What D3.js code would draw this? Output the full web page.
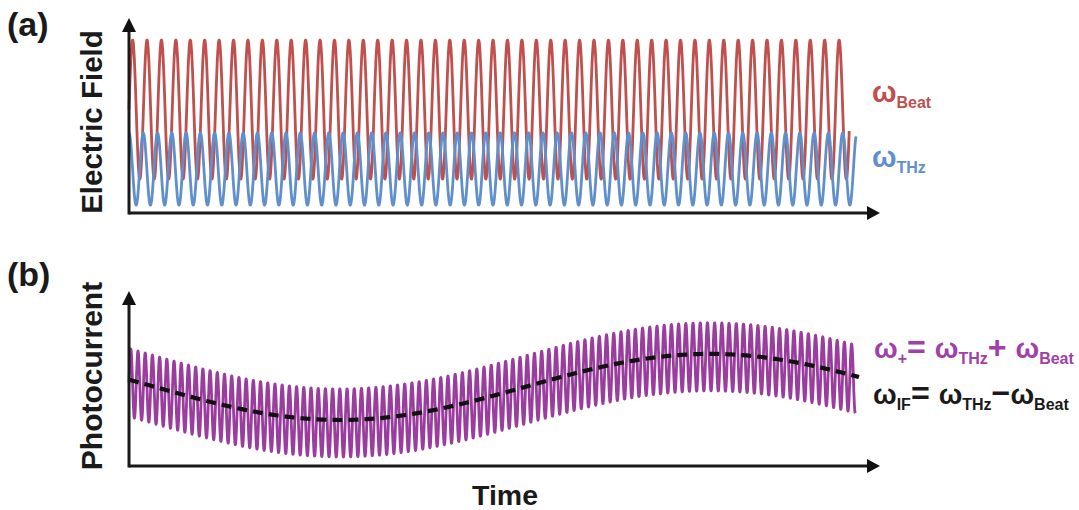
<!DOCTYPE html>
<html>
<head>
<meta charset="utf-8">
<script src="https://cdn.jsdelivr.net/npm/d3@7"></script>
<style>
  html, body { margin: 0; padding: 0; background: #fff; }
  svg { display: block; font-family: Arial, "Liberation Sans", sans-serif; font-weight: bold; }
</style>
</head>
<body>
<svg id="chart" width="1079" height="510"></svg>
<script>
// ---------- data ----------
// Panel (a): electric fields (time axis 0..100, field axis 0..100)
const fieldNames   = ["Beat", "THz"];
const fieldColors  = ["#c0504d", "#6090cc"];
const fieldCycles  = [49.95, 50.93];   // number of oscillations drawn
const fieldAmp     = [36, 18.7];       // amplitude
const fieldOffset  = [53.6, 22.8];     // centre level
const fieldPhase   = [0, 90];          // starting phase, degrees
const fieldEnd     = [95.9, 96.8];     // time at which each trace stops

// Panel (b): photocurrent (time axis 0..100, current axis 0..100)
const sumCycles    = 100.75;  // ω+ oscillations
const sumAmp       = 19.7;
const sumOffset    = 44.0;
const sumEnd       = 96.7;
const ifOffset     = 45.7;    // ωIF envelope (dashed)
const ifAmp        = 19.1;
const ifPeriod     = 98.5;
const ifLowTime    = 28.1;    // time of the lowest point of ωIF
const ifEnd        = 97.3;

const timeDomain   = [0, 100];
const levelDomain  = [0, 100];

// ---------- drawing ----------
const svg = d3.select("#chart");
const x = d3.scaleLinear().domain(timeDomain).range([129, 880]);
const yA = d3.scaleLinear().domain(levelDomain).range([213, 20]);
const yB = d3.scaleLinear().domain(levelDomain).range([466, 293]);

const step = 0.01;
function wave(offset, amp, cycles, end, phaseDeg) {
  return d3.range(0, end + step / 2, step).map(t => [t,
    offset + amp * Math.sin(2 * Math.PI * cycles * t / end + phaseDeg * Math.PI / 180)]);
}

// axes
function drawAxes(yScale) {
  const gx = svg.append("g").attr("transform", `translate(0,${yScale(levelDomain[0])})`)
    .call(d3.axisBottom(x).ticks(0).tickSizeOuter(0));
  gx.select(".domain").attr("stroke", "#1a1a1a").attr("stroke-width", 3)
    .attr("d", `M${x(timeDomain[0])},0H${x(timeDomain[1]) - 10}`);
  const gy = svg.append("g").attr("transform", `translate(${x(timeDomain[0])},0)`)
    .call(d3.axisLeft(yScale).ticks(0).tickSizeOuter(0));
  gy.select(".domain").attr("stroke", "#1a1a1a").attr("stroke-width", 3)
    .attr("d", `M0,${yScale(levelDomain[0]) + 1.5}V${yScale(levelDomain[1]) + 10}`);
  const x0 = x(timeDomain[0]), x1 = x(timeDomain[1]);
  const y0 = yScale(levelDomain[0]), y1 = yScale(levelDomain[1]);
  svg.append("path").attr("fill", "#111")
    .attr("d", `M${x1},${y0} L${x1 - 13},${y0 - 7} L${x1 - 13},${y0 + 7} Z`);
  svg.append("path").attr("fill", "#111")
    .attr("d", `M${x0},${y1 - 2} L${x0 - 7},${y1 + 12} L${x0 + 7},${y1 + 12} Z`);
}

// panel (a)
fieldNames.forEach((n, i) => {
  const line = d3.line().x(d => x(d[0])).y(d => yA(d[1]));
  svg.append("path")
    .datum(wave(fieldOffset[i], fieldAmp[i], fieldCycles[i], fieldEnd[i], fieldPhase[i]))
    .attr("fill", "none").attr("stroke", fieldColors[i])
    .attr("stroke-width", 2.8).attr("stroke-linejoin", "round")
    .attr("d", line);
});
drawAxes(yA);

// panel (b)
const ifAt = t => -ifAmp * Math.cos(2 * Math.PI * (t - ifLowTime) / ifPeriod);
const photo = d3.range(0, sumEnd + step / 2, step).map(t => [t,
  sumOffset + ifAt(t) + sumAmp * Math.sin(2 * Math.PI * sumCycles * t / sumEnd)]);
const envelope = d3.range(0, ifEnd + step / 2, 0.2).map(t => [t, ifOffset + ifAt(t)]);
const lineB = d3.line().x(d => x(d[0])).y(d => yB(d[1]));
svg.append("path").datum(photo)
  .attr("fill", "none").attr("stroke", "#9a3d9e").attr("stroke-width", 2.8)
  .attr("stroke-linejoin", "round").attr("d", lineB);
svg.append("path").datum(envelope)
  .attr("fill", "none").attr("stroke", "#111").attr("stroke-width", 4.2)
  .attr("stroke-dasharray", "10,6").attr("d", lineB);
drawAxes(yB);

// panel letters and axis titles
svg.append("text").attr("x", 7).attr("y", 36).attr("font-size", 34).attr("fill", "#1a1a1a").text("(a)");
svg.append("text").attr("x", 7).attr("y", 286).attr("font-size", 34).attr("fill", "#1a1a1a").text("(b)");
svg.append("text").attr("transform", "translate(102,122) rotate(-90)").attr("text-anchor", "middle")
  .attr("font-size", 29.5).attr("fill", "#1a1a1a").text("Electric Field");
svg.append("text").attr("transform", "translate(102,376) rotate(-90)").attr("text-anchor", "middle")
  .attr("font-size", 30).attr("fill", "#1a1a1a").text("Photocurrent");
svg.append("text").attr("x", 505).attr("y", 505).attr("text-anchor", "middle")
  .attr("font-size", 28.5).attr("fill", "#1a1a1a").text("Time");

// rich text helper: tokens [text, kind] kind: "b" big, "s" subscript, "o" operator
function rich(xp, yp, color, tokens, big, sub, shift) {
  const t = svg.append("text").attr("x", xp).attr("y", yp).attr("fill", color);
  let state = 0;
  tokens.forEach(([s, k]) => {
    const ts = t.append("tspan").text(s);
    if (k === "s") { ts.attr("font-size", sub).attr("dy", state === 0 ? shift : 0); state = 1; }
    else { ts.attr("font-size", k === "o" ? big * 1.15 : big).attr("dy", state === 1 ? -shift : 0); state = 0; }
  });
  return t;
}
rich(872, 102, fieldColors[0], [["ω", "b"], [fieldNames[0], "s"]], 29, 16, 6);
rich(872, 167, fieldColors[1], [["ω", "b"], [fieldNames[1], "s"]], 29, 16, 6);
rich(874, 358, "#a040a8", [["ω", "b"], ["+", "s"], ["= ", "o"], ["ω", "b"], ["THz", "s"], ["+ ", "o"], ["ω", "b"], ["Beat", "s"]], 28, 16, 6);
rich(873, 404, "#1a1a1a", [["ω", "b"], ["IF", "s"], ["= ", "o"], ["ω", "b"], ["THz", "s"], ["−", "o"], ["ω", "b"], ["Beat", "s"]], 28, 16, 6);
</script>
</body>
</html>
